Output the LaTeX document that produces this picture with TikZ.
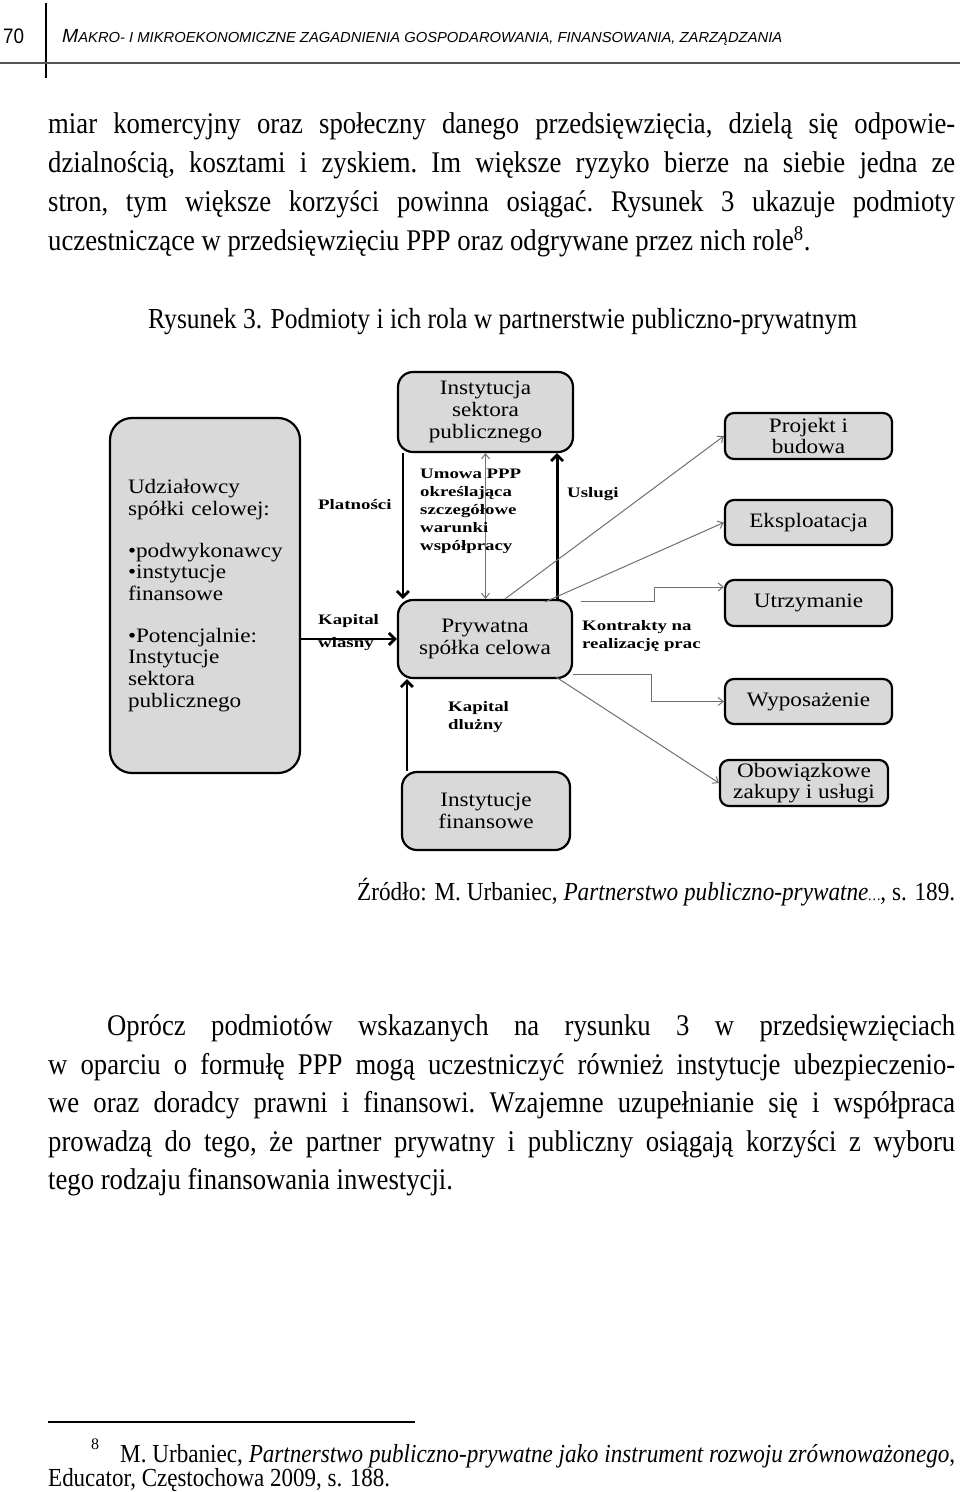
\documentclass[tikz,border=0pt]{standalone}
\usepackage{fontspec}
\setmainfont{Liberation Serif}
\setsansfont{Liberation Sans}
\newfontfamily\boxserif[FakeStretch=1.13]{Liberation Serif}
\newfontfamily\lblserif[FakeStretch=1.3]{Liberation Serif}
\newfontfamily\bodyserif[FakeStretch=0.89]{Liberation Serif}
\usepackage{graphicx}
\usetikzlibrary{arrows.meta,calc}
\definecolor{boxgray}{HTML}{D9D9D9}
\definecolor{thingray}{HTML}{707070}
\definecolor{rulegray}{HTML}{555555}
\newcommand\boxfont{\boxserif\fontsize{20.5}{21.7}\selectfont}
\newcommand\lblfont{\lblserif\bfseries\fontsize{14.5}{18}\selectfont}
\newcommand\bodyfont{\bodyserif\frenchspacing\fontsize{30}{39}\selectfont}
\newcommand\jline[4]{\node[anchor=base west,inner sep=0pt] (#1) at (#2) {\bodyfont\makebox[#3][s]{#4}};}
\newcommand\nline[3]{\node[anchor=base west,inner sep=0pt] (#1) at (#2) {\bodyfont #3};}
\tikzset{
  box/.style={draw=black, line width=2.2pt, fill=boxgray, rounded corners=9pt,
    align=center, font=\boxfont, inner sep=0pt},
  bigbox/.style={box, rounded corners=15pt},
  lbl/.style={font=\lblfont, align=left, inner sep=0pt},
  thickarr/.style={line width=2.8pt, -{Straight Barb[length=6pt,width=12pt]}},
  thinarr/.style={draw=thingray, line width=1pt, -{Straight Barb[length=5pt,width=8pt]}},
  thinline/.style={draw=thingray, line width=1pt},
}
\begin{document}
\begin{tikzpicture}[x=1pt,y=-1pt]
\fill[white] (0,0) rectangle (960,1492);
\useasboundingbox (0,0) rectangle (960,1492);

% header
\draw[line width=1.2pt] (46,3) -- (46,78);
\draw[line width=2pt, rulegray] (0,63) -- (960,63);
\node[anchor=base west,inner sep=0pt] (pg) at (3,43) {\resizebox{21pt}{\height}{\sffamily\fontsize{21}{22}\selectfont 70}};
\node[anchor=base west,inner sep=0pt] (hd) at (62,42) {\resizebox{720pt}{\height}{\sffamily\itshape{\fontsize{19}{20}\selectfont M}\fontsize{14.5}{16}\selectfont AKRO- I MIKROEKONOMICZNE ZAGADNIENIA GOSPODAROWANIA, FINANSOWANIA, ZARZĄDZANIA}};

% paragraph 1
\jline{t1}{48,133}{907pt}{miar komercyjny oraz społeczny danego przedsięwzięcia, dzielą się odpowie-}
\jline{t2}{48,172}{907pt}{dzialnością, kosztami i zyskiem. Im większe ryzyko bierze na siebie jedna ze}
\jline{t3}{48,211}{907pt}{stron, tym większe korzyści powinna osiągać. Rysunek 3 ukazuje podmioty}
\nline{t4}{48,250}{uczestniczące w przedsięwzięciu PPP oraz odgrywane przez nich role\textsuperscript{8}.}

% caption
\node[anchor=base west,inner sep=0pt] (cap) at (148,328) {\resizebox{709pt}{\height}{\bodyserif\fontsize{29}{34}\selectfont Rysunek 3. Podmioty i ich rola w partnerstwie publiczno-prywatnym}};

% diagram boxes
\node[bigbox, rounded corners=22pt, minimum height=355pt, text width=154pt, inner xsep=18pt, align=left] (left) at (205,595.5)
 {Udziałowcy\\spółki celowej:\\[20pt]•podwykonawcy\\•instytucje\\finansowe\\[20pt]•Potencjalnie:\\Instytucje\\sektora\\publicznego};
\node[bigbox, minimum width=175pt, minimum height=80pt] (pub) at (485.5,412) {Instytucja\\sektora\\publicznego};
\node[bigbox, minimum width=174pt, minimum height=78pt] (spv) at (485,639) {Prywatna\\spółka celowa};
\node[bigbox, minimum width=168pt, minimum height=78pt] (fin) at (486,811) {Instytucje\\finansowe};
\node[box, minimum width=167pt, minimum height=46pt] (proj) at (808.5,436) {Projekt i\\budowa};
\node[box, minimum width=167pt, minimum height=45pt] (eksp) at (808.5,522.5) {Eksploatacja};
\node[box, minimum width=167pt, minimum height=46pt] (utrz) at (808.5,603) {Utrzymanie};
\node[box, minimum width=167pt, minimum height=45pt] (wyp) at (808.5,701.5) {Wyposażenie};
\node[box, minimum width=168pt, minimum height=46pt] (obo) at (804,783) {Obowiązkowe\\zakupy i usługi};

% thick connectors
\draw[thickarr] ([xshift=6pt]pub.south west) -- ([xshift=6pt]pub.south west |- spv.north);
\draw[thickarr] ([xshift=-16pt]spv.north east) -- ([xshift=-16pt]spv.north east |- pub.south);
\draw[thickarr] (left.east |- spv.west) -- (spv.west);
\draw[thickarr] ([xshift=6pt]fin.north west) -- ([xshift=6pt]fin.north west |- spv.south);

% thin connectors
\draw[thinline, {Straight Barb[length=5pt,width=8pt]}-{Straight Barb[length=5pt,width=8pt]}] (pub.south) -- (pub.south |- spv.north);
\draw[thinarr] ([xshift=20pt]spv.north) -- (proj.west);
\draw[thinarr] ([xshift=60pt,yshift=-3pt]spv.north) -- (eksp.west);
\coordinate (us) at ([xshift=8pt,yshift=-3pt]spv.north east);
\draw[thinarr] (us) -- ++(73,0) |- ([yshift=16pt]utrz.west);
\coordinate (ws) at ([yshift=5pt]spv.south east);
\draw[thinarr] (ws) -- ++(78,0) |- (wyp.west);
\draw[thinarr] ([xshift=-17pt,yshift=2pt]spv.south east) -- (obo.west);

% labels
\node[lbl, anchor=west] (lplat) at (318,505) {Platności};
\node[lbl, anchor=north west] (lumowa) at (420,469) {Umowa PPP\\określająca\\szczegółowe\\warunki\\współpracy};
\node[lbl, anchor=west] (lusl) at (567,494) {Uslugi};
\node[lbl, anchor=north west] (lkw) at (318,614) {Kapital\\[5pt]wlasny};
\node[lbl, anchor=north west] (lkd) at (448,701) {Kapital\\dlużny};
\node[lbl, anchor=north west] (lkon) at (582,620) {Kontrakty na\\realizację prac};

% source
\node[anchor=base west,inner sep=0pt] (src) at (357,900) {\resizebox{598pt}{\height}{\bodyserif\fontsize{26}{30}\selectfont Źródło: M. Urbaniec, \textit{Partnerstwo publiczno-prywatne}{\fontsize{15}{16}\selectfont\textit{…}}, s. 189.}};

% paragraph 2
\jline{p1}{107,1035}{848pt}{Oprócz podmiotów wskazanych na rysunku 3 w przedsięwzięciach}
\jline{p2}{48,1074}{907pt}{w oparciu o formułę PPP mogą uczestniczyć również instytucje ubezpieczenio-}
\jline{p3}{48,1112}{907pt}{we oraz doradcy prawni i finansowi. Wzajemne uzupełnianie się i współpraca}
\jline{p4}{48,1151}{907pt}{prowadzą do tego, że partner prywatny i publiczny osiągają korzyści z wyboru}
\nline{p5}{48,1189}{tego rodzaju finansowania inwestycji.}

% footnote
\draw[line width=1.5pt] (48,1422) -- (415,1422);
\node[anchor=base west,inner sep=0pt] (fn8) at (91,1449) {\fontsize{16}{17}\selectfont 8};
\node[anchor=base west,inner sep=0pt] (fn1) at (120,1462) {\resizebox{835pt}{\height}{\bodyserif\fontsize{26}{30}\selectfont M. Urbaniec, \textit{Partnerstwo publiczno-prywatne jako instrument rozwoju zrównoważonego},}};
\node[anchor=base west,inner sep=0pt] (fn2) at (48,1486) {\resizebox{342pt}{\height}{\bodyserif\fontsize{26}{30}\selectfont Educator, Częstochowa 2009, s. 188.}};
\end{tikzpicture}
\end{document}
